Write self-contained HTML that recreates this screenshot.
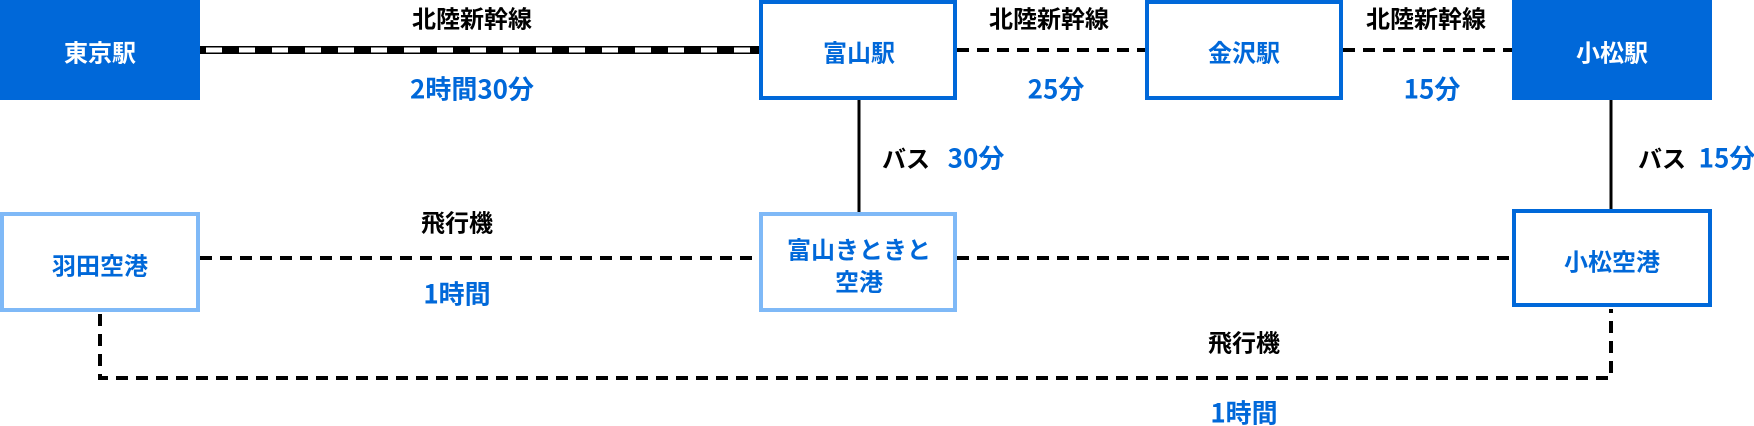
<!DOCTYPE html>
<html><head><meta charset="utf-8"><style>
html,body{margin:0;padding:0;background:#fff;}
svg{display:block;}
text{font-family:"Noto Sans CJK JP","Liberation Sans",sans-serif;font-weight:bold;font-size:24px;dominant-baseline:central;text-anchor:middle;}
.k{fill:#000;}
.b{fill:#0068d9;}
.w{fill:#fff;}
.n{font-size:26px;}
</style></head><body>
<svg width="1754" height="426" viewBox="0 0 1754 426" xmlns="http://www.w3.org/2000/svg">
<rect x="200" y="46" width="559" height="8" fill="#000"/>
<line x1="200" y1="50" x2="759" y2="50" stroke="#fff" stroke-width="5" stroke-dasharray="16 17" stroke-dashoffset="-6"/>
<g stroke="#000" stroke-width="4" stroke-dasharray="12 8" fill="none">
<line x1="957" y1="50" x2="1145" y2="50"/>
<line x1="1343" y1="50" x2="1512" y2="50"/>
<line x1="200" y1="258" x2="759" y2="258"/>
<line x1="957" y1="258" x2="1512" y2="258"/>
<polyline points="100,314 100,378 1611,378 1611,309"/>
</g>
<line x1="859" y1="100" x2="859" y2="212" stroke="#000" stroke-width="3"/>
<line x1="1611" y1="100" x2="1611" y2="209" stroke="#000" stroke-width="3"/>
<rect x="0" y="0" width="200" height="100" fill="#0068d9"/>
<rect x="761" y="2" width="194" height="96" fill="#fff" stroke="#0068d9" stroke-width="4"/>
<rect x="1147" y="2" width="194" height="96" fill="#fff" stroke="#0068d9" stroke-width="4"/>
<rect x="1512" y="0" width="200" height="100" fill="#0068d9"/>
<rect x="2" y="214" width="196" height="96" fill="#fff" stroke="#7fb9f7" stroke-width="4"/>
<rect x="761" y="214" width="194" height="96" fill="#fff" stroke="#7fb9f7" stroke-width="4"/>
<rect x="1514" y="211" width="196" height="94" fill="#fff" stroke="#0068d9" stroke-width="4"/>
<text class="w" x="100" y="51">東京駅</text>
<text class="b" x="859" y="51">富山駅</text>
<text class="b" x="1244" y="51">金沢駅</text>
<text class="w" x="1612" y="51">小松駅</text>
<text class="b" x="100" y="264">羽田空港</text>
<text class="b" x="859" y="248">富山きときと</text>
<text class="b" x="859" y="280">空港</text>
<text class="b" x="1612" y="260">小松空港</text>
<text class="k" x="472" y="17">北陸新幹線</text>
<text class="b n" x="472" y="88">2時間30分</text>
<text class="k" x="1049" y="17">北陸新幹線</text>
<text class="b n" x="1056" y="88">25分</text>
<text class="k" x="1426" y="17">北陸新幹線</text>
<text class="b n" x="1432" y="88">15分</text>
<text class="k" x="906" y="157">バス</text>
<text class="b n" x="976" y="157">30分</text>
<text class="k" x="1662" y="157">バス</text>
<text class="b n" x="1727" y="157">15分</text>
<text class="k" x="457" y="221">飛行機</text>
<text class="b n" x="457" y="293">1時間</text>
<text class="k" x="1244" y="341">飛行機</text>
<text class="b n" x="1244" y="412">1時間</text>
</svg>
</body></html>
